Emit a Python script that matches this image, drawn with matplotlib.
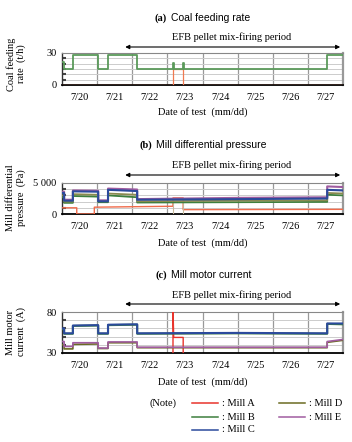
import matplotlib
matplotlib.use("Agg")
import matplotlib.pyplot as plt
from matplotlib.ticker import MultipleLocator

W, H = 352, 442
SERIF = "Liberation Serif"
SANS = "Liberation Sans"

# ---------------- data ----------------
day_labels = ["7/20", "7/21", "7/22", "7/23", "7/24", "7/25", "7/26", "7/27"]
efb_start, efb_end = 1.80, 7.92  # days from 7/20 00:00

# (a) coal feeding rate (t/h)
feed_t = [0, 0.06, 0.06, 0.31, 0.31, 1.03, 1.03, 1.31, 1.31, 2.14, 2.14, 3.16, 3.16, 3.18, 3.18,
          3.45, 3.45, 3.47, 3.47, 7.55, 7.55, 8.0]
feed_bcde = [22, 22, 15, 15, 28, 28, 15, 15, 28, 28, 15, 15, 21, 21, 15,
             15, 21, 21, 15, 15, 28, 28]
feed_a_t = [0, 3.16, 3.16, 3.45, 3.45, 8.0]
feed_a = [0, 0, 15, 15, 0, 0]

# (b) mill differential pressure (Pa)
grp_t = [0, 0.06, 0.06, 0.31, 0.31, 1.03, 1.03, 1.31, 1.31, 2.14, 2.14, 5.0, 7.55, 7.55, 8.0]
dp_c = [3400, 3400, 2150, 2150, 3650, 3600, 2050, 2050, 3900, 3700, 2300, 2400, 2500, 3900, 3800]
dp_e = [3600, 3600, 2300, 2300, 3800, 3750, 2200, 2200, 4100, 3950, 2400, 2600, 2700, 4450, 4350]
dp_d = [3000, 3000, 2000, 2000, 3200, 3100, 2100, 2100, 3300, 3100, 2050, 2150, 2200, 3400, 3300]
dp_b = [2700, 2700, 1800, 1800, 2900, 2800, 1900, 1900, 3000, 2700, 1850, 1900, 1950, 3100, 3000]
dp_a_t = [0, 0.42, 0.42, 0.92, 0.92, 3.16, 3.16, 3.45, 3.45, 8.0]
dp_a = [1000, 1000, 0, 0, 1100, 1250, 2600, 2600, 700, 750]
dp_gap_t = [3.16, 3.16, 3.45, 3.45]
dp_gap = [2100, 0, 0, 2100]

# (c) mill motor current (A)
cur_c = [60, 60, 54, 54, 63.5, 64, 54, 54, 64.5, 65, 54, 54.5, 54, 66, 66]
cur_b = [59, 59, 53.5, 53.5, 63, 63.5, 53.5, 53.5, 64, 64.5, 53.5, 54, 53.5, 65.5, 65]
cur_e = [44, 44, 38, 38, 42.5, 42.5, 36, 36, 43.5, 43.5, 37, 37, 37, 44, 46.5]
cur_d = [40, 40, 35, 35, 40.5, 41, 35.5, 35.5, 42.5, 42.5, 36.5, 36.5, 36.5, 43, 45.5]
cur_a_t = [0, 3.16, 3.16, 3.18, 3.45, 3.45, 8.0]
cur_a = [0, 0, 85, 49, 49, 0, 0]

COL = {"A": "#e8342c", "B": "#3d7f3d", "C": "#2b4a9c", "D": "#6b6b22", "E": "#a05ca0"}

# ---------------- figure ----------------
fig = plt.figure(figsize=(W / 100, H / 100), dpi=100)


def fx(x):
    return x / W


def fy(y):
    return 1 - y / H


def make_ax(top, bottom):
    ax = fig.add_axes([fx(62), fy(bottom), fx(343) - fx(62), fy(top) - fy(bottom)])
    ax.set_xlim(0, 8)
    ax.set_xticks([d + 0.5 for d in range(8)])
    ax.set_xticklabels(day_labels, family=SERIF, fontsize=7.5)
    ax.tick_params(axis="x", length=0, pad=6)
    ax.tick_params(axis="y", which="major", length=0, pad=4, labelsize=7.5)
    ax.tick_params(axis="y", which="minor", direction="in", length=3, width=1.5, color="#444444")
    for d in range(1, 8):
        ax.axvline(d, color="#999999", lw=0.9, zorder=1)
    ax.grid(axis="y", which="minor", color="#cccccc", lw=0.7, zorder=0)
    ax.spines["bottom"].set_color("black")
    ax.spines["bottom"].set_linewidth(1.3)
    ax.spines["left"].set_color("#333333")
    ax.spines["left"].set_linewidth(1.0)
    ax.spines["top"].set_color("#888888")
    ax.spines["top"].set_linewidth(0.8)
    ax.spines["right"].set_color("#999999")
    ax.spines["right"].set_linewidth(1.6)
    for lab in ax.get_yticklabels():
        lab.set_family(SERIF)
    return ax


def decorate(letter, title, title_x_split, title_y, efb_y, arrow_y, ylabel, ylab_y, xlab_y):
    fig.text(fx(title_x_split), fy(title_y), letter, family=SERIF, weight="bold", fontsize=7.5,
             ha="right", va="center")
    fig.text(fx(title_x_split + 4), fy(title_y), title, family=SANS, fontsize=7.5,
             ha="left", va="center")
    fig.text(fx(232), fy(efb_y), "EFB pellet mix-firing period", family=SERIF, fontsize=7.5,
             ha="center", va="center")
    fig.text(fx(16), fy(ylab_y), ylabel, family=SERIF, fontsize=7.5, rotation=90,
             ha="center", va="center", linespacing=1.1, multialignment="center")
    fig.text(fx(202.5), fy(xlab_y), "Date of test  (mm/dd)", family=SERIF, fontsize=7.5,
             ha="center", va="center")


def efb_arrow(ax, arrow_y):
    trans = matplotlib.transforms.blended_transform_factory(ax.transData, fig.transFigure)
    ax.annotate("", xy=(efb_end, fy(arrow_y)), xytext=(efb_start, fy(arrow_y)),
                xycoords=trans, textcoords=trans, annotation_clip=False,
                arrowprops=dict(arrowstyle="<|-|>", color="black", lw=0.8,
                                mutation_scale=6, shrinkA=0, shrinkB=0))


# ---- (a)
ax1 = make_ax(53, 85)
ax1.set_ylim(0, 30)
ax1.set_yticks([0, 30])
ax1.set_yticklabels(["0", "30"], family=SERIF)
ax1.yaxis.set_minor_locator(MultipleLocator(5))
ax1.plot(feed_a_t, feed_a, color="#f07a50", lw=0.9, zorder=3, clip_on=True)
ax1.plot(feed_t, feed_bcde, color="#5a9a5a", lw=1.3, zorder=4)
decorate("(a)", "Coal feeding rate", 167, 18, 37, 47, "Coal feeding\nrate  (t/h)", 64, 112)
efb_arrow(ax1, 47)

# ---- (b)
ax2 = make_ax(183, 214)
ax2.set_ylim(0, 5000)
ax2.set_yticks([0, 5000])
ax2.set_yticklabels(["0", "5 000"], family=SERIF)
ax2.yaxis.set_minor_locator(MultipleLocator(1000))
ax2.plot(dp_a_t, dp_a, color="#f06a4a", lw=1.0, zorder=3)
ax2.plot(dp_gap_t, dp_gap, color="#c8b89a", lw=0.8, zorder=3)
ax2.plot(grp_t, dp_b, color=COL["B"], lw=1.3, zorder=4)
ax2.plot(grp_t, dp_d, color="#8a8a50", lw=1.3, zorder=4)
ax2.plot(grp_t, dp_e, color=COL["E"], lw=1.5, zorder=5)
ax2.plot(grp_t, dp_c, color=COL["C"], lw=1.5, zorder=6)
decorate("(b)", "Mill differential pressure", 152, 145, 165, 175,
         "Mill differential\npressure  (Pa)", 198, 243)
efb_arrow(ax2, 175)

# ---- (c)
ax3 = make_ax(312, 353)
ax3.set_ylim(30, 80)
ax3.set_yticks([30, 80])
ax3.set_yticklabels(["30", "80"], family=SERIF)
ax3.yaxis.set_minor_locator(MultipleLocator(10))
ax3.plot(cur_a_t, cur_a, color=COL["A"], lw=1.0, zorder=3)
ax3.plot(grp_t, cur_d, color=COL["D"], lw=1.2, zorder=4)
ax3.plot(grp_t, cur_e, color=COL["E"], lw=1.2, zorder=5)
ax3.plot(grp_t, cur_b, color=COL["B"], lw=1.5, zorder=6)
ax3.plot(grp_t, cur_c, color=COL["C"], lw=1.5, zorder=7)
decorate("(c)", "Mill motor current", 167, 275, 295, 304, "Mill motor\ncurrent  (A)", 332, 382)
efb_arrow(ax3, 304)

# ---- legend note
fig.text(fx(163), fy(403), "(Note)", family=SERIF, fontsize=7.5, ha="center", va="center")
legend_items = [("A", 192, 403), ("B", 192, 417), ("C", 192, 430), ("D", 279, 403), ("E", 279, 417)]
for name, x0, y0 in legend_items:
    fig.add_artist(matplotlib.lines.Line2D([fx(x0), fx(x0 + 26)], [fy(y0), fy(y0)],
                                           color=COL[name], lw=1.1, transform=fig.transFigure))
    fig.text(fx(x0 + 30), fy(y0), ": Mill " + name, family=SERIF, fontsize=7.5,
             ha="left", va="center")

fig.savefig("out.png", dpi=100)
